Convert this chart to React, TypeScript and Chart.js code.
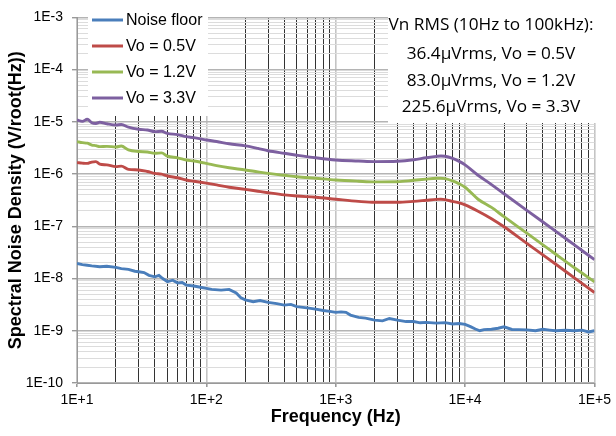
import React, { useEffect, useRef } from "react";
import { Chart, registerables } from "chart.js";

Chart.register(...registerables);

// ---------- data ----------
const seriesLabels = ["Noise floor", "Vo = 0.5V", "Vo = 1.2V", "Vo = 3.3V"];
const seriesColors = ["#4A7EBB", "#BE4B48", "#98B954", "#7D60A0"];

const noiseFreq = [
  10, 11, 12, 13, 15, 17, 20, 22, 25, 28, 30, 33, 36, 40, 43, 46, 50, 55, 60, 65, 70, 80, 90,
  100, 110, 130, 150, 170, 185, 200, 230, 260, 300, 350, 400, 450, 500, 600, 700, 800, 900,
  1000, 1100, 1200, 1300, 1500, 1700, 2000, 2300, 2600, 3000, 3500, 4000, 4500, 5000, 6000,
  7000, 8000, 9000, 10000, 11000, 12000, 13000, 14000, 16000, 18000, 20000, 23000, 26000,
  30000, 35000, 40000, 45000, 50000, 60000, 70000, 80000, 90000, 100000,
];
const noiseFloor = [
  1.95e-8, 1.85e-8, 1.8e-8, 1.75e-8, 1.68e-8, 1.72e-8, 1.64e-8, 1.55e-8, 1.5e-8, 1.38e-8,
  1.35e-8, 1.3e-8, 1.15e-8, 1.08e-8, 1.15e-8, 1.0e-8, 8.7e-9, 9.3e-9, 8.2e-9, 8.4e-9, 7.5e-9,
  7.2e-9, 6.8e-9, 6.5e-9, 6.2e-9, 6.0e-9, 6.2e-9, 5.3e-9, 4.3e-9, 3.9e-9, 3.6e-9, 3.8e-9,
  3.5e-9, 3.3e-9, 3.1e-9, 3.2e-9, 2.9e-9, 2.75e-9, 2.6e-9, 2.45e-9, 2.35e-9, 2.25e-9, 2.3e-9,
  2.25e-9, 2.0e-9, 1.8e-9, 1.75e-9, 1.6e-9, 1.55e-9, 1.72e-9, 1.6e-9, 1.5e-9, 1.5e-9, 1.42e-9,
  1.45e-9, 1.4e-9, 1.43e-9, 1.35e-9, 1.38e-9, 1.33e-9, 1.2e-9, 1.08e-9, 1.0e-9, 1.05e-9,
  1.07e-9, 1.12e-9, 1.19e-9, 1.06e-9, 1.05e-9, 1.04e-9, 1.0e-9, 1.07e-9, 1.03e-9, 1.0e-9,
  1.02e-9, 1.0e-9, 1.03e-9, 0.95e-9, 1.0e-9,
];

const voFreq = [
  10, 11, 12, 13, 14, 15, 17, 20, 22, 25, 30, 35, 40, 45, 50, 60, 70, 80, 100, 120, 150, 200,
  250, 300, 400, 500, 700, 1000, 1500, 2000, 3000, 4000, 5000, 6000, 6500, 7000, 8000, 9000,
  10000, 12600, 16000, 20000, 30000, 50000, 70000, 100000,
];
const vo05 = [
  1.66e-6, 1.62e-6, 1.6e-6, 1.7e-6, 1.73e-6, 1.55e-6, 1.5e-6, 1.39e-6, 1.42e-6, 1.23e-6,
  1.2e-6, 1.12e-6, 1.03e-6, 1.0e-6, 9.2e-7, 8.5e-7, 7.7e-7, 7.3e-7, 6.7e-7, 6.2e-7, 5.6e-7,
  5.1e-7, 4.7e-7, 4.4e-7, 4.0e-7, 3.8e-7, 3.6e-7, 3.3e-7, 3.0e-7, 2.88e-7, 2.88e-7, 3.0e-7,
  3.15e-7, 3.28e-7, 3.3e-7, 3.25e-7, 3.0e-7, 2.8e-7, 2.57e-7, 1.95e-7, 1.4e-7, 9.8e-8, 4.7e-8,
  1.9e-8, 1.03e-8, 5.4e-9,
];
const vo12 = [
  4.18e-6, 4.0e-6, 3.9e-6, 3.6e-6, 3.5e-6, 3.35e-6, 3.4e-6, 3.3e-6, 3.45e-6, 2.9e-6, 2.7e-6,
  2.65e-6, 2.5e-6, 2.55e-6, 2.2e-6, 2.05e-6, 1.86e-6, 1.78e-6, 1.6e-6, 1.45e-6, 1.32e-6,
  1.2e-6, 1.1e-6, 1.03e-6, 9.5e-7, 8.9e-7, 8.3e-7, 7.7e-7, 7.3e-7, 7.1e-7, 7.15e-7, 7.6e-7,
  8.0e-7, 8.3e-7, 8.35e-7, 8.2e-7, 7.4e-7, 6.5e-7, 5.6e-7, 3.3e-7, 2.3e-7, 1.53e-7, 7.4e-8,
  2.95e-8, 1.61e-8, 8.7e-9,
];
const vo33 = [
  1.09e-5, 1.02e-5, 1.12e-5, 9.6e-6, 9.3e-6, 9.8e-6, 9.2e-6, 8.7e-6, 8.9e-6, 7.9e-6, 7.2e-6,
  7.0e-6, 6.5e-6, 6.6e-6, 6.0e-6, 5.7e-6, 5.2e-6, 5.0e-6, 4.5e-6, 4.2e-6, 3.8e-6, 3.46e-6,
  3.1e-6, 2.8e-6, 2.5e-6, 2.3e-6, 2.05e-6, 1.86e-6, 1.78e-6, 1.73e-6, 1.76e-6, 1.88e-6,
  2.05e-6, 2.18e-6, 2.22e-6, 2.2e-6, 2.0e-6, 1.75e-6, 1.5e-6, 9.5e-7, 6.3e-7, 4.2e-7, 2.02e-7,
  8.1e-8, 4.4e-8, 2.3e-8,
];

const xDecades = [1e1, 1e2, 1e3, 1e4, 1e5];
const yDecades = [1e-10, 1e-9, 1e-8, 1e-7, 1e-6, 1e-5, 1e-4, 1e-3];
const rmsLines = [
  "Vn RMS (10Hz to 100kHz):",
  "36.4\u03BCVrms, Vo = 0.5V",
  "83.0\u03BCVrms, Vo = 1.2V",
  "225.6\u03BCVrms, Vo = 3.3V",
];
const xTitle = "Frequency (Hz)";
const yTitle = "Spectral Noise Density (V/root(Hz))";

// ---------- helpers ----------
const FONT = "'Liberation Sans', Arial, sans-serif";

function withMinors(decades: number[]): number[] {
  const out: number[] = [];
  for (let i = 0; i < decades.length - 1; i++) {
    for (let k = 1; k <= 9; k++) out.push(k * decades[i]);
  }
  out.push(decades[decades.length - 1]);
  return out;
}

function isDecade(v: number): boolean {
  const l = Math.log10(v);
  return Math.abs(l - Math.round(l)) < 1e-7;
}

function toPoints(fx: number[], vy: number[]) {
  return fx.map((f, i) => ({ x: f, y: vy[i] }));
}

const overlayPlugin = {
  id: "overlayBoxes",
  afterDraw(chart: any) {
    const ctx = chart.ctx as CanvasRenderingContext2D;
    ctx.save();
    // legend box
    ctx.fillStyle = "#ffffff";
    ctx.fillRect(88, 2, 120, 114);
    chart.data.datasets.forEach((ds: any, i: number) => {
      const y = 20 + i * 26;
      ctx.strokeStyle = ds.borderColor;
      ctx.lineWidth = 3;
      ctx.beginPath();
      ctx.moveTo(92, y);
      ctx.lineTo(123, y);
      ctx.stroke();
      ctx.fillStyle = "#000";
      ctx.font = `16px ${FONT}`;
      ctx.textAlign = "left";
      ctx.textBaseline = "middle";
      ctx.fillText(ds.label, 126, y + 1);
    });
    // annotation box
    ctx.fillStyle = "#ffffff";
    ctx.fillRect(388, 2, 210, 121);
    ctx.font = `16px 'Open Sans', 'Noto Sans', sans-serif`;
    const w = ctx.measureText(rmsLines[0]).width;
    const size = (16 * 205) / w;
    ctx.font = `${size.toFixed(2)}px 'Open Sans', 'Noto Sans', sans-serif`;
    ctx.fillStyle = "#000";
    ctx.textAlign = "center";
    ctx.textBaseline = "middle";
    const ys = [25, 54, 81, 107];
    rmsLines.forEach((t, i) => ctx.fillText(t, 491, ys[i]));
    ctx.restore();
  },
};

export default function App() {
  const ref = useRef<HTMLCanvasElement | null>(null);

  useEffect(() => {
    document.body.style.margin = "0";
    const canvas = ref.current;
    if (!canvas) return;
    const xTicks = withMinors(xDecades);
    const yTicks = withMinors(yDecades);

    const seriesData = [
      toPoints(noiseFreq, noiseFloor),
      toPoints(voFreq, vo05),
      toPoints(voFreq, vo12),
      toPoints(voFreq, vo33),
    ];

    const chart = new Chart(canvas, {
      type: "line",
      data: {
        datasets: seriesData.map((d, i) => ({
          label: seriesLabels[i],
          data: d,
          borderColor: seriesColors[i],
          backgroundColor: seriesColors[i],
          borderWidth: 2.9,
          pointRadius: 0,
          fill: false,
          tension: 0,
          cubicInterpolationMode: i === 0 ? "default" : "monotone",
        })),
      },
      options: {
        responsive: false,
        animation: false,
        events: [],
        layout: { padding: { left: 0, right: 20, top: 17, bottom: 0 } },
        plugins: {
          legend: { display: false },
          tooltip: { enabled: false },
          title: { display: false },
        },
        scales: {
          x: {
            type: "logarithmic",
            min: 10,
            max: 1e5,
            afterBuildTicks: (s: any) => {
              s.ticks = xTicks.map((v) => ({ value: v }));
            },
            afterFit: (s: any) => {
              s.height = 53;
            },
            ticks: {
              autoSkip: false,
              maxRotation: 0,
              minRotation: 0,
              padding: 5,
              color: "#000",
              font: { family: FONT, size: 14 },
              callback: (v: any) => (isDecade(Number(v)) ? "1E+" + Math.round(Math.log10(Number(v))) : ""),
            },
            grid: {
              color: (c: any) => (isDecade(c.tick.value) ? "#c4c4c4" : "#333333"),
              lineWidth: (c: any) => (isDecade(c.tick.value) ? 1.6 : 1),
              tickColor: (c: any) => (isDecade(c.tick.value) ? "#999" : "rgba(0,0,0,0)"),
              tickLength: 4,
            },
            border: { color: "#999", width: 1 },
            title: {
              display: true,
              text: xTitle,
              color: "#000",
              font: { family: FONT, size: 18, weight: "bold" },
              padding: { top: 0, bottom: 8 },
            },
          },
          y: {
            type: "logarithmic",
            min: 1e-10,
            max: 1e-3,
            afterBuildTicks: (s: any) => {
              s.ticks = yTicks.map((v) => ({ value: v }));
            },
            afterFit: (s: any) => {
              s.width = 77;
            },
            ticks: {
              autoSkip: false,
              padding: 9,
              color: "#000",
              font: { family: FONT, size: 14 },
              callback: (v: any) => (isDecade(Number(v)) ? "1E" + Math.round(Math.log10(Number(v))) : ""),
            },
            grid: {
              color: (c: any) => (isDecade(c.tick.value) ? "#b4b4b4" : "#dcdcdc"),
              lineWidth: (c: any) => (isDecade(c.tick.value) ? 1.4 : 1),
              tickColor: (c: any) => (isDecade(c.tick.value) ? "#999" : "rgba(0,0,0,0)"),
              tickLength: 5,
            },
            border: { color: "#999", width: 1 },
            title: {
              display: true,
              text: yTitle,
              color: "#000",
              font: { family: FONT, size: 18, weight: "bold" },
              padding: { top: 5, bottom: 0 },
            },
          },
        },
      },
      plugins: [overlayPlugin],
    } as any);

    return () => chart.destroy();
  }, []);

  return <canvas ref={ref} width={616} height={436} style={{ display: "block", width: 616, height: 436 }} />;
}
